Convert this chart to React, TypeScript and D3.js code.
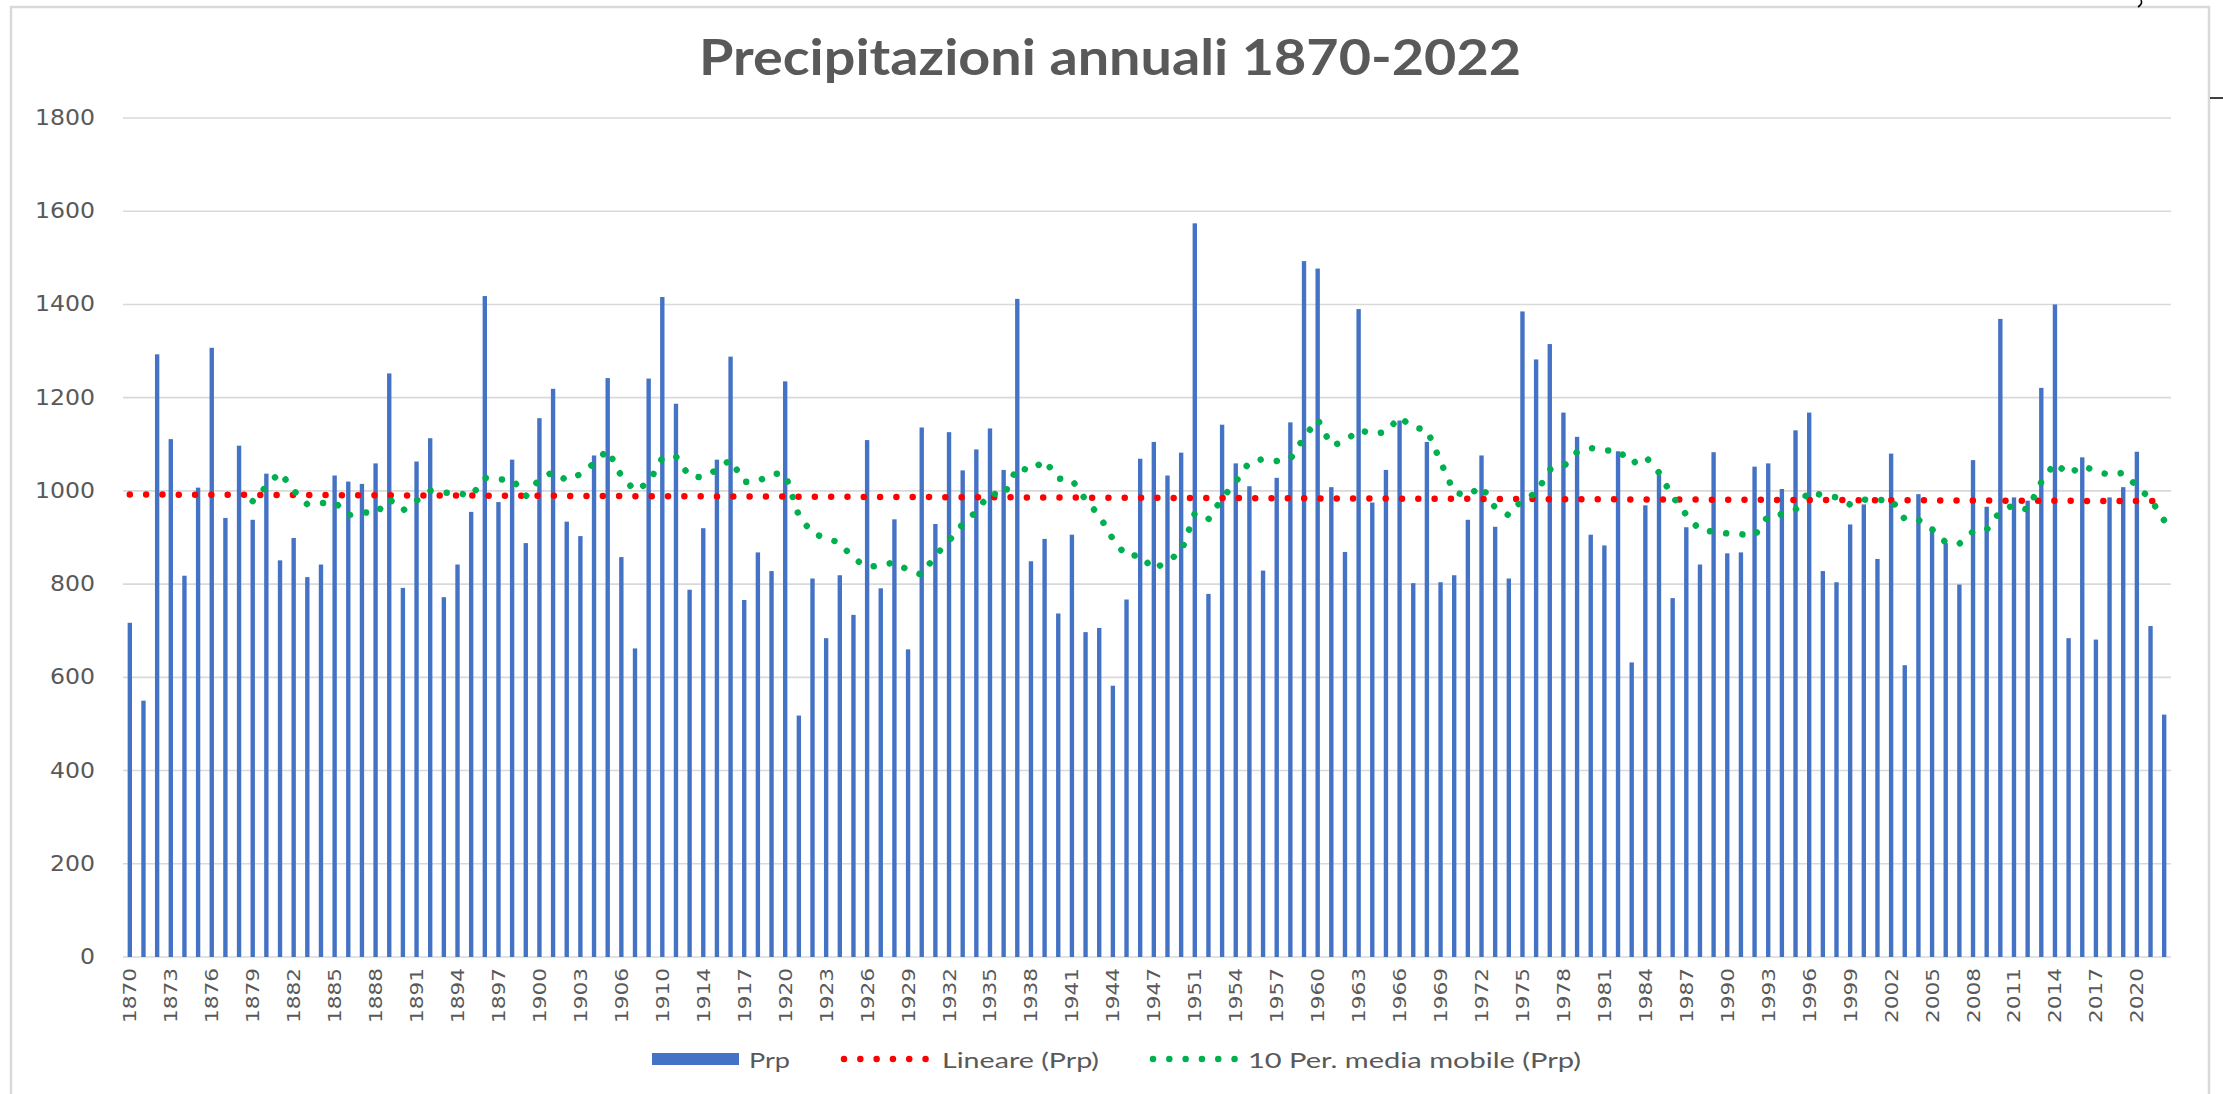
import React from "react";
import * as d3 from "d3";

const W = 2223;
const H = 1094;

const years: string[] = [
  "1870","1871","1872","1873","1874","1875","1876","1877","1878","1879",
  "1880","1881","1882","1883","1884","1885","1886","1887","1888","1889",
  "1890","1891","1892","1893","1894","1895","1896","1897","1898","1899",
  "1900","1901","1902","1903","1904","1905","1906","1907","1909","1910",
  "1911","1913","1914","1915","1916","1917","1918","1919","1920","1921",
  "1922","1923","1924","1925","1926","1927","1928","1929","1930","1931",
  "1932","1933","1934","1935","1936","1937","1938","1939","1940","1941",
  "1942","1943","1944","1945","1946","1947","1948","1950","1951","1952",
  "1953","1954","1955","1956","1957","1958","1959","1960","1961","1962",
  "1963","1964","1965","1966","1967","1968","1969","1970","1971","1972",
  "1973","1974","1975","1976","1977","1978","1979","1980","1981","1982",
  "1983","1984","1985","1986","1987","1988","1989","1990","1991","1992",
  "1993","1994","1995","1996","1997","1998","1999","2000","2001","2002",
  "2003","2004","2005","2006","2007","2008","2009","2010","2011","2012",
  "2013","2014","2015","2016","2017","2018","2019","2020","2021","2022",
];

const prp: number[] = [
  717, 550, 1293, 1111, 818, 1007, 1307, 942, 1097, 938,
  1037, 851, 899, 815, 842, 1033, 1020, 1015, 1059, 1252,
  792, 1063, 1113, 772, 842, 955, 1418, 976, 1067, 888,
  1156, 1219, 934, 903, 1076, 1242, 858, 662, 1241, 1416,
  1187, 788, 920, 1067, 1288, 766, 868, 828, 1235, 518,
  812, 684, 819, 734, 1109, 791, 939, 660, 1136, 929,
  1126, 1044, 1089, 1134, 1045, 1412, 849, 897, 737, 906,
  697, 706, 582, 767, 1069, 1105, 1033, 1082, 1574, 779,
  1142, 1059, 1010, 829, 1028, 1147, 1493, 1477, 1008, 869,
  1390, 975, 1045, 1151, 802, 1105, 804, 819, 938, 1076,
  923, 812, 1385, 1282, 1315, 1168, 1116, 906, 883, 1085,
  632, 969, 1034, 770, 922, 842, 1083, 866, 868, 1052,
  1059, 1004, 1130, 1168, 828, 804, 928, 971, 854, 1080,
  626, 993, 923, 888, 799, 1066, 966, 1369, 986, 979,
  1221, 1400, 684, 1072, 681, 986, 1008, 1084, 710, 520,
];

const yTicks: number[] = [0, 200, 400, 600, 800, 1000, 1200, 1400, 1600, 1800];
const titleText = "Precipitazioni annuali 1870-2022";
const legendLabels: string[] = ["Prp", "Lineare (Prp)", "10 Per. media mobile (Prp)"];

const BLUE = "#4472C4";
const RED = "#FF0000";
const GREEN = "#00B050";
const GRID = "#d9d9d9";
const TEXT = "#595959";

export default function App() {
  const plotLeft = 123;
  const plotRight = 2171;
  const plotTop = 118;
  const plotBottom = 957;

  const x = d3
    .scaleBand<string>()
    .domain(years)
    .range([plotLeft, plotRight])
    .paddingInner(0.68)
    .paddingOuter(0.34);
  const y = d3.scaleLinear().domain([0, 1800]).range([plotBottom, plotTop]);
  const cx = (yr: string) => (x(yr) as number) + x.bandwidth() / 2;

  // Linear trendline (least squares over category index 1..n)
  const n = prp.length;
  const xs = d3.range(1, n + 1);
  const mx = d3.mean(xs) as number;
  const my = d3.mean(prp) as number;
  const slope =
    d3.sum(xs, (xi, i) => (xi - mx) * (prp[i] - my)) /
    d3.sum(xs, (xi) => (xi - mx) * (xi - mx));
  const intercept = my - slope * mx;
  const trendPath = d3.line()([
    [cx(years[0]), y(intercept + slope * 1)],
    [cx(years[n - 1]), y(intercept + slope * n)],
  ]) as string;

  // 10-period moving average
  const ma: (number | null)[] = prp.map((_, i) =>
    i >= 9 ? (d3.mean(prp.slice(i - 9, i + 1)) as number) : null
  );
  const maPath = d3
    .line<number | null>()
    .defined((d) => d != null)
    .x((_, i) => cx(years[i]))
    .y((d) => y(d as number))(ma) as string;

  const dotStyle = {
    strokeWidth: 6.5,
    strokeLinecap: "round" as const,
    strokeDasharray: "0.01 16.3",
    fill: "none",
  };

  const legendY = 1059;

  return (
    <div style={{ position: "absolute", left: 0, top: 0, width: W, height: H, background: "#fff" }}>
      <svg width={W} height={H} style={{ display: "block" }}>
        <rect x={0} y={0} width={W} height={H} fill="#fff" />
        {/* outer frame */}
        <rect x={11} y={7} width={2198} height={1100} fill="#fff" stroke={GRID} strokeWidth={2.5} />
        {/* artifacts outside frame */}
        <path d="M2138,7 Q2143,4 2141,0" stroke="#000" strokeWidth={1.5} fill="none" />
        <line x1={2210} y1={98} x2={2223} y2={98} stroke="#000" strokeWidth={1.5} />

        {/* title */}
        <text
          x={1110}
          y={75}
          textAnchor="middle"
          fontFamily="Lato, 'Open Sans', sans-serif"
          fontWeight="bold"
          fontSize={50}
          fill={TEXT}
          textLength={822}
          lengthAdjust="spacingAndGlyphs"
        >
          {titleText}
        </text>

        {/* gridlines */}
        {yTicks.map((t) => (
          <line
            key={"g" + t}
            x1={plotLeft}
            x2={plotRight}
            y1={y(t)}
            y2={y(t)}
            stroke={GRID}
            strokeWidth={1.6}
          />
        ))}

        {/* y labels */}
        {yTicks.map((t) => (
          <text
            key={"yl" + t}
            x={95}
            y={y(t)}
            textAnchor="end"
            dominantBaseline="central"
            fontFamily="'DejaVu Sans', sans-serif"
            fontSize={21}
            fill={TEXT}
            textLength={String(t).length * 15}
            lengthAdjust="spacingAndGlyphs"
          >
            {t}
          </text>
        ))}

        {/* bars */}
        {years.map((yr, i) => (
          <rect
            key={"b" + yr}
            x={x(yr) as number}
            y={y(prp[i])}
            width={x.bandwidth()}
            height={y(0) - y(prp[i])}
            fill={BLUE}
          />
        ))}

        {/* trend lines */}
        <path d={trendPath} stroke={RED} {...dotStyle} />
        <path d={maPath} stroke={GREEN} {...dotStyle} />

        {/* x labels */}
        {years.map((yr, i) =>
          i % 3 === 0 ? (
            <text
              key={"xl" + yr}
              transform={`translate(${cx(yr)},968) rotate(-90)`}
              textAnchor="end"
              dominantBaseline="central"
              fontFamily="'DejaVu Sans', sans-serif"
              fontSize={18.5}
              fill={TEXT}
              textLength={55}
              lengthAdjust="spacingAndGlyphs"
            >
              {yr}
            </text>
          ) : null
        )}

        {/* legend */}
        <rect x={652} y={legendY - 6} width={87} height={12} fill={BLUE} />
        <text
          x={749}
          y={legendY}
          dominantBaseline="central"
          fontFamily="Lato, sans-serif"
          fontSize={22}
          fill={TEXT}
          textLength={41}
          lengthAdjust="spacingAndGlyphs"
        >
          {legendLabels[0]}
        </text>
        <path d={`M844,${legendY}H927`} stroke={RED} {...dotStyle} />
        <text
          x={942}
          y={legendY}
          dominantBaseline="central"
          fontFamily="Lato, sans-serif"
          fontSize={22}
          fill={TEXT}
          textLength={157}
          lengthAdjust="spacingAndGlyphs"
        >
          {legendLabels[1]}
        </text>
        <path d={`M1153,${legendY}H1237`} stroke={GREEN} {...dotStyle} />
        <text
          x={1248}
          y={legendY}
          dominantBaseline="central"
          fontFamily="Lato, sans-serif"
          fontSize={22}
          fill={TEXT}
          textLength={333}
          lengthAdjust="spacingAndGlyphs"
        >
          {legendLabels[2]}
        </text>
      </svg>
    </div>
  );
}
